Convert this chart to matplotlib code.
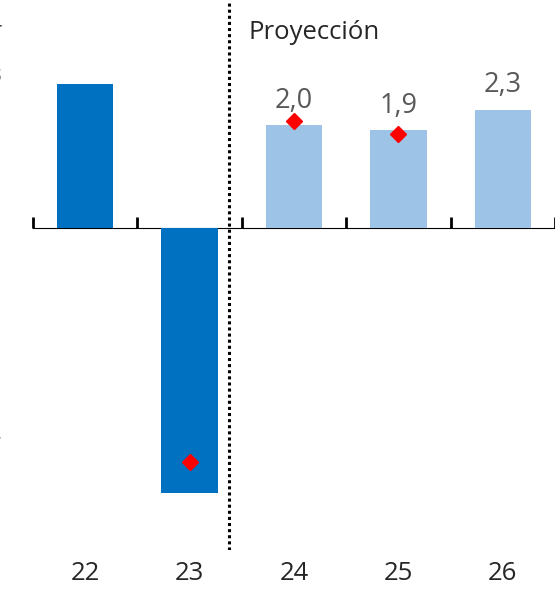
import matplotlib
matplotlib.use("Agg")
import matplotlib.pyplot as plt
import numpy as np

plt.rcParams['font.family'] = ['Open Sans', 'DejaVu Sans']

categories = ["22", "23", "24", "25", "26"]
values = [2.8, -5.15, 2.0, 1.9, 2.3]
bar_colors = ["#0070C0", "#0070C0", "#9DC3E6", "#9DC3E6", "#9DC3E6"]
marker_x = ["23", "24", "25"]
marker_vals = [-4.55, 2.08, 1.83]
label_cats = ["24", "25", "26"]
label_texts = ["2,0", "1,9", "2,3"]
yticks = [-6, -5, -4, -3, -2, -1, 0, 1, 2, 3, 4]

fig = plt.figure(figsize=(5.55, 5.89), dpi=100)
ax = fig.add_axes([33/555, 1 - 550/589, 1 - 33/555, 550/589])

x = np.arange(len(categories))
ax.bar(x, values, width=0.54, color=bar_colors, zorder=2)

mx = [categories.index(c) for c in marker_x]
ax.plot(mx, marker_vals, linestyle='none', marker='D', color='#FF0000',
        markersize=8.5, zorder=4)

for c, t in zip(label_cats, label_texts):
    i = categories.index(c)
    ax.annotate(t, (i, values[i]), xytext=(0, 7.5), textcoords='offset points',
                ha='center', va='bottom', fontsize=19.5, color='#595959')

ylo, yhi = -6.25, 4.43
ax.set_xlim(-0.5, 4.5)
ax.set_ylim(ylo, yhi)

for s in ['top', 'right', 'left', 'bottom']:
    ax.spines[s].set_visible(False)

ax.set_xticks(x)
ax.set_xticklabels(categories, fontsize=18.5, color='#262626')
ax.tick_params(axis='x', length=0, pad=8)

ax.set_yticks(yticks)
ax.set_yticklabels([str(v) for v in yticks], fontsize=15, color='#404040')
ax.tick_params(axis='y', length=0, pad=23)

# zero axis line with category boundary ticks
frac0 = (0 - ylo) / (yhi - ylo)
sec = ax.secondary_xaxis(frac0)
sec.set_xticks(np.arange(-0.5, len(categories), 1.0))
sec.set_xticklabels([])
sec.tick_params(length=8, width=2, direction='out', color='black')
sec.spines['bottom'].set_linewidth(2.2)
sec.spines['bottom'].set_color('black')

# projection divider
ax.axvline(1.375, color='black', linestyle=(0, (1, 1)), linewidth=2.2, zorder=3)
ax.text(1.56, 3.79, "Proyección", fontsize=18.5, color='#262626', ha='left', va='center')

fig.savefig("out.png", dpi=100)
